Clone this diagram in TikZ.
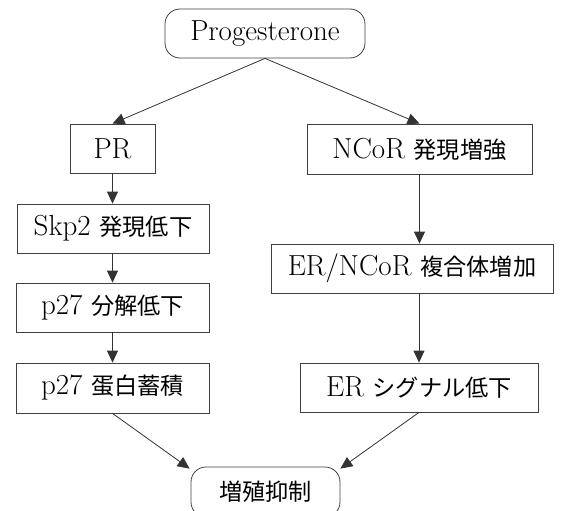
\documentclass[tikz,border=0pt]{standalone}
\usepackage{fontspec}
\newfontfamily\jp[Scale=0.8]{Noto Sans CJK JP}
\usetikzlibrary{arrows.meta}
\begin{document}
\begin{tikzpicture}[x=1pt,y=-1pt,
  every node/.style={font=\fontsize{29}{33}\selectfont, inner sep=0pt, draw=black!75, line width=0.8pt},
  stepbox/.style={rectangle, minimum height=49pt},
  endbox/.style={rectangle, rounded corners=15pt, minimum height=49pt},
  link/.style={draw=black!80, line width=0.8pt, -{Triangle[length=12pt,width=11pt]}}]
  \useasboundingbox (0,0) rectangle (563,511);

  \node[endbox, minimum width=200pt] (prog) at (265,33.5) {Progesterone};

  % left branch
  \node[stepbox, minimum width=85pt]  (pr)   at (112.5,148.5) {PR};
  \node[stepbox, minimum width=192pt] (skp)  at (113,228.5)   {Skp2 {\jp 発現低下}};
  \node[stepbox, minimum width=193pt] (deg)  at (112.5,307.5) {p27 {\jp 分解低下}};
  \node[stepbox, minimum width=193pt, minimum height=50pt] (acc) at (112.5,388) {p27 {\jp 蛋白蓄積}};

  % right branch
  \node[stepbox, minimum width=225pt, minimum height=50pt] (ncor) at (419.5,149) {NCoR {\jp 発現増強}};
  \node[stepbox, minimum width=282pt] (cplx) at (412,268.5)  {ER/NCoR {\jp 複合体増加}};
  \node[stepbox, minimum width=238pt] (ers)  at (419,387.5)  {ER {\jp シグナル低下}};

  \node[endbox, minimum width=149pt, minimum height=50pt] (out) at (265.5,492) {\jp 増殖抑制};

  \draw[link] (prog.south) -- (pr.north);
  \draw[link] (prog.south) -- (ncor.north);
  \draw[link] (pr.south) -- (skp.north -| pr.south);
  \draw[link] (skp.south -| pr.south) -- (deg.north -| pr.south);
  \draw[link] (deg.south -| pr.south) -- (acc.north -| pr.south);
  \draw[link] (ncor.south) -- (cplx.north -| ncor.south);
  \draw[link] (cplx.south -| ers.north) -- (ers.north);
  \draw[link] (acc.south -| pr.south) -- ([xshift=-1pt,yshift=-2pt]out.north west);
  \draw[link] (ers.south) -- ([yshift=-2pt]out.north east);
\end{tikzpicture}
\end{document}
